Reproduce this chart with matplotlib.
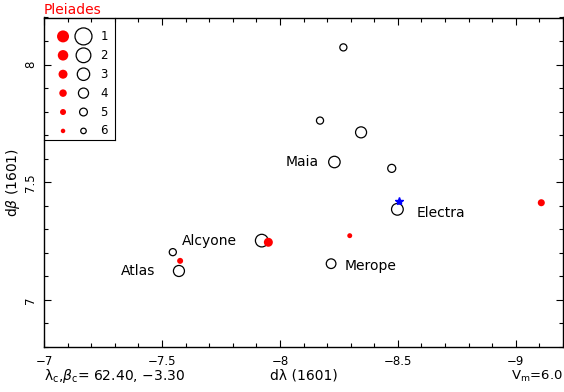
import numpy as np
import matplotlib
matplotlib.use('Agg')
import matplotlib.pyplot as plt
from matplotlib.ticker import MultipleLocator, FuncFormatter

# open circles: star positions (dlambda, dbeta) and magnitudes
open_lam = [-8.269, -8.170, -8.344, -8.231, -8.474, -8.498, -8.217, -7.923, -7.546, -7.572]
open_bet = [8.073, 7.762, 7.712, 7.586, 7.559, 7.385, 7.154, 7.252, 7.203, 7.123]
open_mag = [5.3, 5.3, 3.6, 3.4, 4.9, 3.3, 4.2, 2.9, 5.3, 3.6]
open_name = ['', '', '', 'Maia', '', 'Electra', 'Merope', 'Alcyone', '', 'Atlas']

# red dots (1601 catalogue)
red_lam = [-7.951, -7.577, -8.296, -9.108]
red_bet = [7.245, 7.166, 7.273, 7.413]
red_mag = [3.0, 5.0, 5.7, 4.3]

# blue star
blue_lam = [-8.506]
blue_bet = [7.422]

legend_mags = [1, 2, 3, 4, 5, 6]

lam_c, bet_c, v_m = 62.40, -3.30, 6.0


def open_size(m):
    # diameter in pixels -> points
    return (17 - 2.3 * (np.asarray(m) - 1)) * 0.72


def red_size(m):
    return (12 - 1.5 * (np.asarray(m) - 1)) * 0.72


# label offsets in points (dx, dy, ha)
label_off = {'Maia': (-11, 0, 'right'), 'Electra': (13.5, -2.7, 'left'),
             'Merope': (9.4, -1.7, 'left'), 'Alcyone': (-17.8, 0, 'right'),
             'Atlas': (-17.3, 0, 'right')}

fmt = FuncFormatter(lambda v, p: ('%g' % v).replace('-', '−'))

plt.rcParams['font.family'] = 'DejaVu Sans'
fig = plt.figure(figsize=(5.64, 3.92), dpi=100)
ax = fig.add_axes([44/564, 1-347/392, 519/564, 329.5/392])

ax.scatter(open_lam, open_bet, s=open_size(open_mag)**2, facecolors='none',
           edgecolors='black', linewidths=0.9, zorder=3)
ax.scatter(red_lam, red_bet, s=red_size(red_mag)**2, color='red',
           linewidths=0, zorder=4)
ax.plot(blue_lam, blue_bet, marker='*', color='blue', ms=6, ls='none', zorder=5)

for x, y, n in zip(open_lam, open_bet, open_name):
    if n:
        dx, dy, ha = label_off[n]
        ax.annotate(n, (x, y), xytext=(dx, dy), textcoords='offset points',
                    ha=ha, va='center', fontsize=10)

ax.set_xlim(-7, -9.2)
ax.set_ylim(6.8, 8.2)
ax.xaxis.set_major_locator(MultipleLocator(0.5))
ax.xaxis.set_minor_locator(MultipleLocator(0.1))
ax.yaxis.set_major_locator(MultipleLocator(0.5))
ax.yaxis.set_minor_locator(MultipleLocator(0.1))
ax.xaxis.set_major_formatter(fmt)
ax.yaxis.set_major_formatter(fmt)
ax.tick_params(which='both', direction='in', top=True, right=True, width=0.8)
ax.tick_params(which='major', length=5)
ax.tick_params(which='minor', length=3)
ax.tick_params(axis='x', labelsize=8.5, pad=6)
ax.tick_params(axis='y', labelsize=8.5, pad=5, labelrotation=90)
for lab in ax.get_yticklabels():
    lab.set_verticalalignment('center')
for sp in ax.spines.values():
    sp.set_linewidth(1)

ax.set_ylabel(r'd$\beta$ (1601)', fontsize=10, va='center')
ax.yaxis.set_label_coords(-0.060, 0.5)
ax.set_xlabel('dλ (1601)', fontsize=10, va='baseline')
ax.xaxis.set_label_coords(0.5, -0.1)

fig.text(44/564, 12/392, r'λ$_{\rm c}$,$\beta_{\rm c}$= %.2f, %s' % (lam_c, ('%.2f' % bet_c).replace('-', '−')),
         fontsize=10, ha='left', va='baseline')
fig.text(563/564, 12/392, r'V$_{\rm m}$=%.1f' % v_m, fontsize=9.5, ha='right', va='baseline')
fig.text(44/564, 1-14/392, 'Pleiades', color='red', fontsize=10, ha='left', va='baseline')

# magnitude key
lg = fig.add_axes([44/564, 1-140/392, 71/564, 122.5/392])
lg.set_facecolor('none')
lg.set_xlim(-0.93, 2.54)
lg.set_ylim(6.48, 0)
lg.set_xticks([])
lg.set_yticks([])
rows = np.array(legend_mags)
lg.scatter(np.zeros(len(rows)), rows, s=red_size(rows)**2, color='red', linewidths=0)
lg.scatter(np.ones(len(rows)), rows, s=open_size(rows)**2, facecolors='none',
           edgecolors='black', linewidths=0.9)
for m in legend_mags:
    lg.text(2, m, str(m), ha='center', va='center', fontsize=8.5)
lg.spines['left'].set_visible(False)
lg.spines['top'].set_visible(False)

fig.savefig('out.png', dpi=100)
